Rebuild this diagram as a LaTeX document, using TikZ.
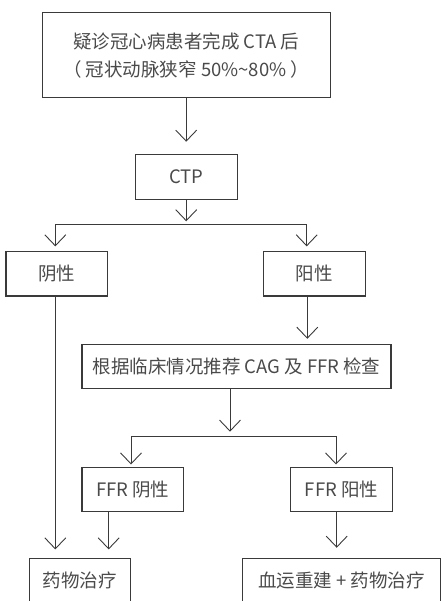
\documentclass[tikz,border=0pt]{standalone}
\usepackage{fontspec}
\setmainfont{Noto Sans CJK SC}
\usetikzlibrary{arrows.meta,calc}
\definecolor{ln}{HTML}{3A3A3A}
\definecolor{tx}{HTML}{4A4A4A}
\tikzset{
  box/.style={draw=ln, line width=1.1pt, rectangle, inner sep=0pt, text=tx, font=\fontsize{18.5}{28}\selectfont, align=center},
  conn/.style={draw=ln, line width=0.9pt},
  arr/.style={conn, -{Straight Barb[length=11pt,width=21pt,line width=0.9pt]}},
}
\begin{document}
\begin{tikzpicture}[x=1pt,y=-1pt]
\useasboundingbox (0,0) rectangle (447,601);
\clip (0,0) rectangle (447,601);
\node[box, minimum width=287.7pt, minimum height=85pt] (top) at (186.2,55.2) {疑诊冠心病患者完成 CTA 后\\（ 冠状动脉狭窄 50\%\char"7E 80\% ）};
\node[box, minimum width=102.3pt, minimum height=45pt] (ctp) at (186.2,176.8) {CTP};
\node[box, minimum width=101.7pt, minimum height=44.3pt] (yin) at (56.8,273.8) {阴性};
\node[box, minimum width=102pt, minimum height=44.3pt] (yang) at (314.3,273.8) {阳性};
\node[box, minimum width=309pt, minimum height=44.3pt] (cag) at (236.5,366.2) {根据临床情况推荐 CAG 及 FFR 检查};
\node[box, minimum width=101.7pt, minimum height=43.7pt] (ffrn) at (132.8,489.2) {FFR 阴性};
\node[box, minimum width=101.6pt, minimum height=43.7pt] (ffrp) at (341.5,489.2) {FFR 阳性};
\node[box, minimum width=101pt, minimum height=44pt] (drug) at (79.8,580.3) {药物治疗};
\node[box, minimum width=198.4pt, minimum height=44pt] (revasc) at (341.5,580.3) {血运重建 + 药物治疗};
\coordinate (s1) at (186.2,224.3);
\coordinate (s2) at (230,436);
% top -> ctp
\draw[arr, shorten >=12pt] (top.south) -- (ctp.north);
% ctp -> split
\draw[arr, shorten >=3pt] (ctp.south) -- (s1);
\draw[arr, shorten >=4.7pt] (s1) -| ([xshift=-1.5pt]yin.north);
\draw[arr, shorten >=4.7pt] (s1) -| ([xshift=-7.6pt]yang.north);
% yang -> cag
\draw[arr, shorten >=4.7pt] ([xshift=-7pt]yang.south) -- ([xshift=-7pt]yang.south |- cag.north);
% cag -> split2
\draw[arr, shorten >=4.3pt] (s2 |- cag.south) -- (s2);
\draw[arr, shorten >=2.3pt] (s2) -| ([xshift=-1.8pt]ffrn.north);
\draw[arr, shorten >=2.3pt] (s2) -| ([xshift=-5.5pt]ffrp.north);
% to bottom
\draw[arr, shorten >=8.3pt] ([xshift=-1.5pt]yin.south) -- ([xshift=-1.5pt]yin.south |- drug.north);
\draw[arr, shorten >=8.3pt] ([xshift=-24.1pt]ffrn.south) -- ([xshift=-24.1pt]ffrn.south |- drug.north);
\draw[arr, shorten >=10pt] ([xshift=-4.8pt]ffrp.south) -- ([xshift=-4.8pt]ffrp.south |- revasc.north);
\end{tikzpicture}
\end{document}
